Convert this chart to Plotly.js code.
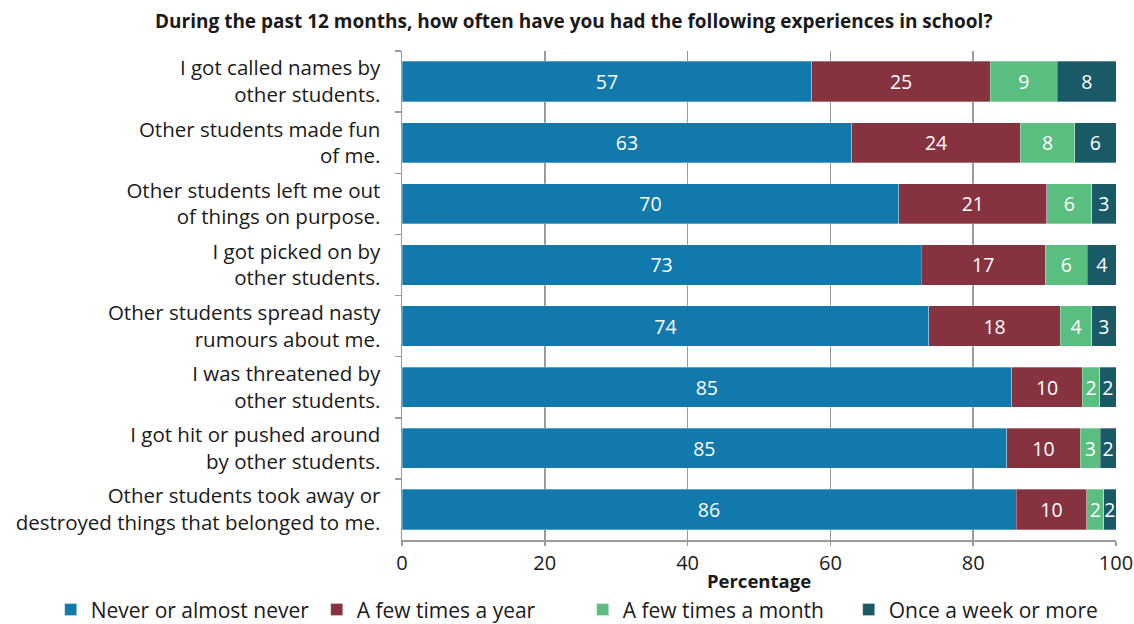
<!DOCTYPE html>
<html>
<head>
<meta charset="utf-8">
<script src="https://cdn.plot.ly/plotly-3.0.1.min.js"></script>
<style>html,body{margin:0;padding:0;background:#fff;}#chart{width:1134px;height:624px;}</style>
</head>
<body>
<div id="chart"></div>
<script>
const categories = [
  "I got called names by<br>other students.",
  "Other students made fun<br>of me.",
  "Other students left me out<br>of things on purpose.",
  "I got picked on by<br>other students.",
  "Other students spread nasty<br>rumours about me.",
  "I was threatened by<br>other students.",
  "I got hit or pushed around<br>by other students.",
  "Other students took away or<br>destroyed things that belonged to me."
];
const seriesNames = ["Never or almost never", "A few times a year", "A few times a month", "Once a week or more"];
const never   = [57.4, 63.0, 69.6, 72.7, 73.8, 85.4, 84.7, 86.0];
const yearly  = [25.0, 23.6, 20.7, 17.4, 18.4,  9.9, 10.3,  9.9];
const monthly = [ 9.4,  7.6,  6.3,  5.9,  4.4,  2.4,  2.8,  2.4];
const weekly  = [ 8.2,  5.8,  3.4,  4.0,  3.4,  2.3,  2.2,  1.7];
const neverLabels   = [57, 63, 70, 73, 74, 85, 85, 86];
const yearlyLabels  = [25, 24, 21, 17, 18, 10, 10, 10];
const monthlyLabels = [9, 8, 6, 6, 4, 2, 3, 2];
const weeklyLabels  = [8, 6, 3, 4, 3, 2, 2, 2];
const xTicks = [0, 20, 40, 60, 80, 100];
const colors = ["#1179AB", "#86323F", "#5ABE80", "#1A5A67"];

const FONT = "'Open Sans', 'Noto Sans', sans-serif";
const seriesVals = [never, yearly, monthly, weekly];
const seriesLabels = [neverLabels, yearlyLabels, monthlyLabels, weeklyLabels];

const traces = seriesVals.map((vals, i) => ({
  type: "bar",
  orientation: "h",
  name: seriesNames[i],
  x: vals,
  y: categories,
  text: seriesLabels[i].map(String),
  textposition: "inside",
  insidetextanchor: "middle",
  textangle: 0,
  constraintext: "none",
  textfont: {color: "#ffffff", size: 19.5, family: FONT},
  marker: {color: colors[i], line: {width: 0.5, color: "rgba(255,255,255,0.6)"}},
  hoverinfo: "skip"
}));

const layout = {
  width: 1134, height: 624,
  margin: {l: 402, r: 18, t: 51, b: 84, autoexpand: false},
  barmode: "stack",
  bargap: 0.34,
  paper_bgcolor: "#ffffff",
  plot_bgcolor: "#ffffff",
  font: {family: FONT, size: 18.5, color: "#1a1a1a"},
  uniformtext: {mode: "show", minsize: 19.5},
  showlegend: true,
  legend: {
    orientation: "h", x: -0.492, xanchor: "left", y: -0.143, yanchor: "middle",
    font: {size: 21, family: FONT, color: "#1a1a1a"},
    traceorder: "normal", itemwidth: 30, entrywidth: 221
  },
  xaxis: {
    range: [0, 100], tickvals: xTicks, ticktext: xTicks.map(String),
    showgrid: true, gridcolor: "#9a9a9a", gridwidth: 1.5,
    zeroline: false, showline: true, linecolor: "#9a9a9a", linewidth: 1.5,
    ticks: "outside", ticklen: 4, tickcolor: "#9a9a9a", tickwidth: 1.5,
    tickfont: {size: 20, family: FONT},
    title: {text: "<b>Percentage</b>", font: {size: 18.5, family: FONT}, standoff: 0},
    fixedrange: true
  },
  yaxis: {
    type: "category", autorange: "reversed",
    showline: true, linecolor: "#9a9a9a", linewidth: 1.5,
    ticks: "outside", tickson: "boundaries", ticklen: 6, tickcolor: "#9a9a9a", tickwidth: 1.5,
    showgrid: false, tickfont: {size: 20.5, family: FONT}, ticklabelstandoff: 16,
    fixedrange: true
  },
  annotations: [{
    text: "<b>During the past 12 months, how often have you had the following experiences in school?</b>",
    xref: "paper", yref: "paper", x: 0.24, xanchor: "center", y: 1, yanchor: "bottom", yshift: 15,
    showarrow: false, font: {size: 19, family: FONT, color: "#1a1a1a"}
  }]
};

Plotly.newPlot("chart", traces, layout, {displayModeBar: false, staticPlot: true});
</script>
</body>
</html>
